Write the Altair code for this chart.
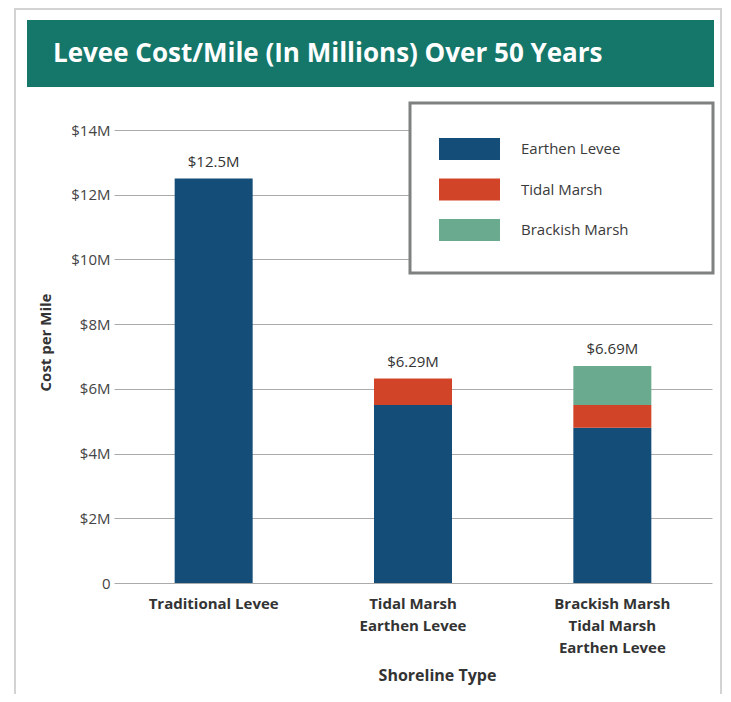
import altair as alt
import pandas as pd

# ---------------- data ----------------
categories = ["Traditional Levee", "Tidal Marsh\nEarthen Levee", "Brackish Marsh\nTidal Marsh\nEarthen Levee"]
series = ["Earthen Levee", "Tidal Marsh", "Brackish Marsh"]
colors = ["#144d78", "#d24428", "#6aab8f"]
earthen = [12.5, 5.5, 4.8]
tidal = [0.0, 0.82, 0.7]
brackish = [0.0, 0.0, 1.21]
total_labels = ["$12.5M", "$6.29M", "$6.69M"]
y_ticks = [0, 2, 4, 6, 8, 10, 12, 14]
title_text = "Levee Cost/Mile (In Millions) Over 50 Years"

# ---------------- tables ----------------
rows = []
for i, cat in enumerate(categories):
    for s_idx, (s, vals) in enumerate(zip(series, [earthen, tidal, brackish])):
        if vals[i] > 0:
            rows.append({"cat": cat, "series": s, "idx": s_idx, "value": vals[i]})
bars_df = pd.DataFrame(rows)

tot_df = pd.DataFrame({
    "cat": categories,
    "label": total_labels,
    "top": [e + t + b for e, t, b in zip(earthen, tidal, brackish)],
})
leg_df = pd.DataFrame({"series": series, "idx": list(range(len(series)))})
one = pd.DataFrame({"a": [0]})

FONT = "Open Sans"
W, H = 598, 453

color_scale = alt.Scale(domain=series, range=colors)
x_enc = alt.X(
    "cat:N",
    sort=categories,
    scale=alt.Scale(paddingInner=0, paddingOuter=0),
    axis=alt.Axis(
        labelAngle=0,
        labelExpr="split(datum.value, '\\n')",
        labelFont=FONT,
        labelFontSize=15,
        labelFontWeight="bold",
        labelColor="#333333",
        labelLineHeight=22,
        labelPadding=13,
        labelLimit=300,
        domain=False,
        ticks=False,
        title="Shoreline Type",
        titleFont=FONT,
        titleFontSize=16,
        titleFontWeight="bold",
        titleColor="#333333",
        titleX=323,
        titleY=97,
        titleAlign="center",
        titleBaseline="alphabetic",
    ),
)
y_axis = alt.Axis(
    values=y_ticks,
    labelExpr="datum.value == 0 ? '0' : '$' + datum.value + 'M'",
    labelFont=FONT,
    labelFontSize=15,
    labelColor="#444444",
    labelPadding=4,
    domain=False,
    ticks=False,
    grid=True,
    gridColor="#aaaaaa",
    gridWidth=1,
    title="Cost per Mile",
    titleFont=FONT,
    titleFontSize=15,
    titleFontWeight="bold",
    titleColor="#333333",
    titleAngle=270,
    titleX=-69,
    titleY=212,
    titleAlign="center",
    titleBaseline="middle",
)

border = alt.Chart(one).mark_rect(filled=False, stroke="#d3d3d3", strokeWidth=2).encode(
    x=alt.value(-99), x2=alt.value(607), y=alt.value(-121), y2=alt.value(620)
)
banner = alt.Chart(one).mark_rect(color="#15766a").encode(
    x=alt.value(-87), x2=alt.value(600), y=alt.value(-110), y2=alt.value(-43)
)
title = alt.Chart(one).mark_text(
    text=title_text, color="white", font=FONT, fontSize=26,
    fontWeight="bold", align="left", baseline="alphabetic"
).encode(x=alt.value(-61), y=alt.value(-68))

bars = alt.Chart(bars_df).mark_bar(size=78).encode(
    x=x_enc,
    y=alt.Y("value:Q", stack="zero", scale=alt.Scale(domain=[0, 14], nice=False), axis=y_axis),
    color=alt.Color("series:N", scale=color_scale, legend=None),
    order=alt.Order("idx:Q", sort="ascending"),
)
labels = alt.Chart(tot_df).mark_text(
    font=FONT, fontSize=15, color="#333333", dy=-12, baseline="alphabetic"
).encode(x=alt.X("cat:N", sort=categories), y=alt.Y("top:Q"), text="label:N")

leg_box = alt.Chart(one).mark_rect(fill="white", stroke="#7f8080", strokeWidth=3).encode(
    x=alt.value(296), x2=alt.value(599), y=alt.value(-27), y2=alt.value(143)
)
leg_sw = alt.Chart(leg_df).mark_rect().transform_calculate(
    ly="19 + 40.5 * datum.idx - 11", ly2="19 + 40.5 * datum.idx + 11"
).encode(
    x=alt.value(325), x2=alt.value(386),
    y=alt.Y("ly:Q", scale=None), y2="ly2:Q",
    color=alt.Color("series:N", scale=color_scale, legend=None),
)
leg_tx = alt.Chart(leg_df).mark_text(
    font=FONT, fontSize=15, color="#3a3a3a", align="left", baseline="middle"
).transform_calculate(ly="19 + 40.5 * datum.idx").encode(
    x=alt.value(407), y=alt.Y("ly:Q", scale=None), text="series:N"
)

chart = alt.layer(border, banner, title, bars, labels, leg_box, leg_sw, leg_tx).properties(
    width=W, height=H,
    autosize=alt.AutoSizeParams(type="none"),
    padding={"left": 106, "top": 122, "right": 11, "bottom": 111},
).configure_view(strokeWidth=0)

chart.save("out.html", embed_options={"renderer": "svg", "actions": False})
